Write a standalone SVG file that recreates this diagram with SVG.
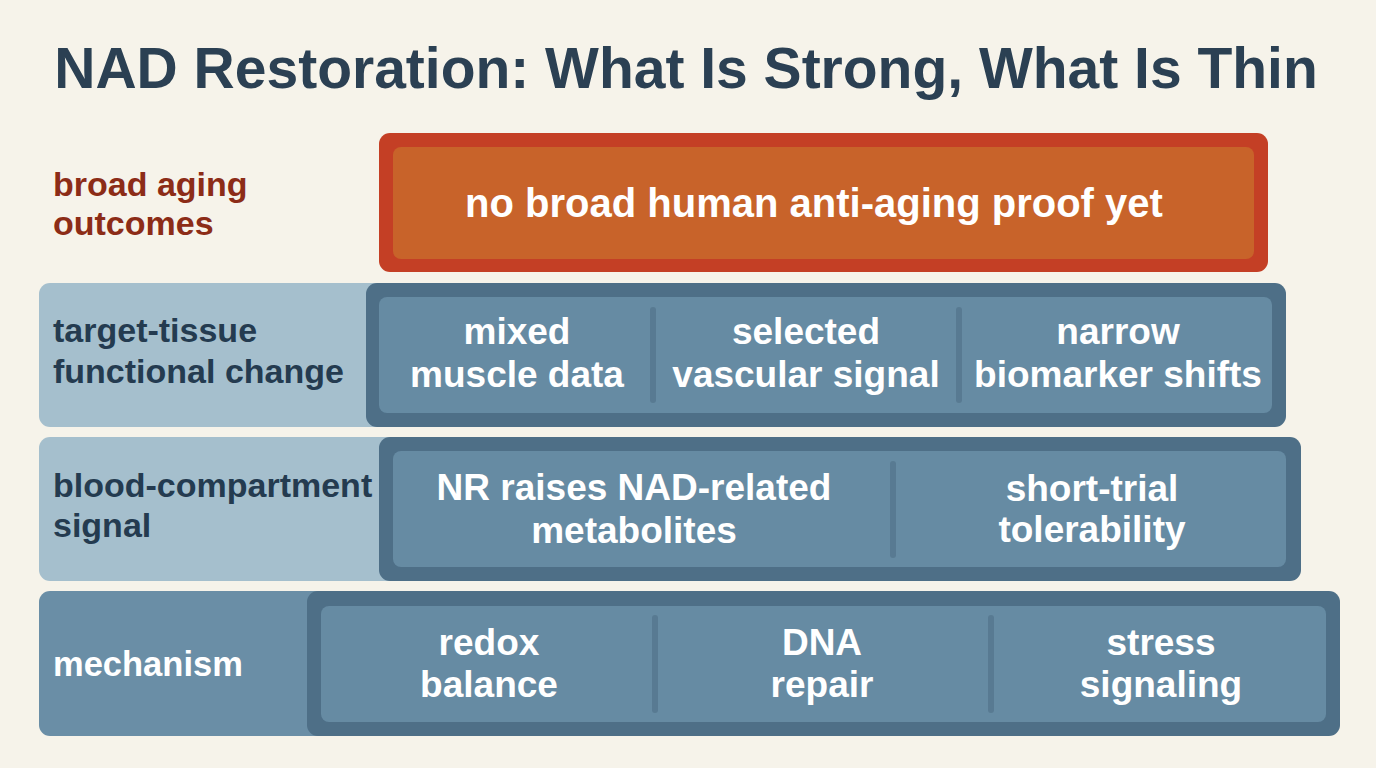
<svg xmlns="http://www.w3.org/2000/svg" width="1376" height="768" viewBox="0 0 1376 768">
<style>
text{font-family:"Liberation Sans",Arial,sans-serif;font-weight:bold}
.title{font-size:57px;fill:#2b4053}
.lab{font-size:34px;fill:#243b50}
.labr{font-size:34px;fill:#8c2c17}
.labw{font-size:34.5px;fill:#ffffff}
.cell{font-size:37px;fill:#ffffff;text-anchor:middle}
.big{font-size:40px;fill:#ffffff;text-anchor:middle}
.frame{fill:#4e6f87}
.inner{fill:#668ba3}
.panel{fill:#a5bfcd}
.panel2{fill:#6a8ea6}
.div{stroke:#587a92;stroke-width:6;stroke-linecap:round}
</style>
<rect width="1376" height="768" fill="#f6f3ea"/>
<text class="title" x="686" y="88" text-anchor="middle">NAD Restoration: What Is Strong, What Is Thin</text>

<g id="row-outcomes">
<text class="labr" x="53" y="196">broad aging</text>
<text class="labr" x="53" y="235">outcomes</text>
<rect x="379" y="133" width="889" height="139" rx="11" fill="#c43f25"/>
<rect x="393" y="147" width="861" height="112" rx="8" fill="#c8632a"/>
<text class="big" x="814" y="217">no broad human anti-aging proof yet</text>
</g>

<g id="row-tissue">
<rect class="panel" x="39" y="283" width="360" height="144" rx="11"/>
<text class="lab" x="53" y="342">target-tissue</text>
<text class="lab" x="53" y="383">functional change</text>
<rect class="frame" x="366" y="283" width="920" height="144" rx="11"/>
<rect class="inner" x="379" y="297" width="893" height="116" rx="8"/>
<text class="cell" x="517" y="344">mixed</text>
<text class="cell" x="517" y="387">muscle data</text>
<text class="cell" x="806" y="344">selected</text>
<text class="cell" x="806" y="387">vascular signal</text>
<text class="cell" x="1118" y="344">narrow</text>
<text class="cell" x="1118" y="387">biomarker shifts</text>
</g>

<g id="row-blood">
<rect class="panel" x="39" y="437" width="370" height="144" rx="11"/>
<text class="lab" x="53" y="497">blood-compartment</text>
<text class="lab" x="53" y="537">signal</text>
<rect class="frame" x="379" y="437" width="922" height="144" rx="11"/>
<rect class="inner" x="393" y="451" width="893" height="116" rx="8"/>
<text class="cell" x="634" y="500">NR raises NAD-related</text>
<text class="cell" x="634" y="543">metabolites</text>
<text class="cell" x="1092" y="501">short-trial</text>
<text class="cell" x="1092" y="542">tolerability</text>
</g>

<g id="row-mechanism">
<rect class="panel2" x="39" y="591" width="300" height="145" rx="11"/>
<text class="labw" x="53" y="676">mechanism</text>
<rect class="frame" x="307" y="591" width="1033" height="145" rx="11"/>
<rect class="inner" x="321" y="606" width="1005" height="116" rx="8"/>
<text class="cell" x="489" y="655">redox</text>
<text class="cell" x="489" y="697">balance</text>
<text class="cell" x="822" y="655">DNA</text>
<text class="cell" x="822" y="697">repair</text>
<text class="cell" x="1161" y="655">stress</text>
<text class="cell" x="1161" y="697">signaling</text>
</g>

<g id="connectors">
<line class="div" x1="653" y1="310" x2="653" y2="400"/>
<line class="div" x1="959" y1="310" x2="959" y2="400"/>
<line class="div" x1="893" y1="464" x2="893" y2="555"/>
<line class="div" x1="655" y1="618" x2="655" y2="710"/>
<line class="div" x1="991" y1="618" x2="991" y2="710"/>
</g>
</svg>
